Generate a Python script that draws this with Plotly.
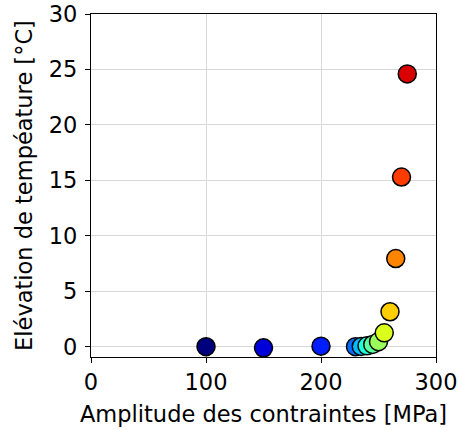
import numpy as np
import plotly.graph_objects as go

amplitude = [100, 150, 200, 230, 235, 240, 245, 250, 255, 260, 265, 270, 275]
elevation = [0.0, -0.1, 0.05, 0.0, 0.02, 0.08, 0.2, 0.45, 1.25, 3.15, 7.95, 15.3, 24.6]
x_ticks = [0, 100, 200, 300]
y_ticks = [0, 5, 10, 15, 20, 25, 30]

# matplotlib 'jet' colormap sampled at i/N
def jet(t):
    r = np.interp(t, [0, 0.35, 0.66, 0.89, 1], [0, 0, 1, 1, 0.5])
    g = np.interp(t, [0, 0.125, 0.375, 0.64, 0.91, 1], [0, 0, 1, 1, 0, 0])
    b = np.interp(t, [0, 0.11, 0.34, 0.65, 1], [0.5, 1, 1, 0, 0])
    return f"rgb({int(r*255)},{int(g*255)},{int(b*255)})"

n = len(amplitude)
colors = [jet(i / n) for i in range(n)]

fig = go.Figure(go.Scatter(
    x=amplitude, y=elevation, mode="markers",
    marker=dict(size=18, color=colors, line=dict(color="black", width=1.5)),
))

font = dict(family="DejaVu Sans", size=22.5, color="black")
axis_common = dict(
    showline=True, linecolor="black", linewidth=1.3, mirror=True,
    ticks="outside", ticklen=5, tickwidth=1.2, tickcolor="black",
    showgrid=True, gridcolor="#d8d8d8", gridwidth=1.2, zeroline=False,
    tickfont=font, automargin=False, ticklabeloverflow="allow",
)
fig.update_layout(
    width=458, height=430,
    margin=dict(l=91, r=22, t=14, b=73, pad=0),
    paper_bgcolor="white", plot_bgcolor="white",
    showlegend=False,
    font=font,
    xaxis=dict(range=[0, 300], tickvals=x_ticks,
               title=dict(text="Amplitude des contraintes [MPa]", font=font, standoff=12),
               **axis_common),
    yaxis=dict(range=[-0.93, 30], tickvals=y_ticks, ticklabelstandoff=3,
               title=dict(text="Elévation de tempéature [°C]", font=font, standoff=9),
               **axis_common),
)
fig.write_html("out.html", config={"displayModeBar": False},
               post_script="document.body.style.margin='0';document.body.style.overflow='hidden';")
